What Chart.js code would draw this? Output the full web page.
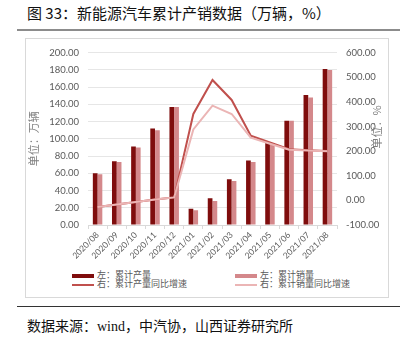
<!DOCTYPE html>
<html>
<head>
<meta charset="utf-8">
<script src="https://cdn.jsdelivr.net/npm/chart.js@4"></script>
<style>
  body { margin: 0; background: #fff; width: 405px; height: 346px; position: relative; overflow: hidden; }
  .title { position: absolute; left: 27px; top: 2px; font: 15px "Noto Sans CJK SC", sans-serif; color: #111; }
  .rule-top { position: absolute; left: 17px; top: 29px; width: 383px; height: 2px; background: #8c8c8c; }
  .box { position: absolute; left: 25px; top: 38px; width: 362px; height: 258px; border: 1px solid #d9d9d9; }
  .chart-wrap { position: absolute; left: 25px; top: 38px; width: 363px; height: 222px; }
  .legend { position: absolute; font: 9px "Noto Sans CJK SC", sans-serif; color: #595959; }
  .legend .item { position: absolute; white-space: nowrap; height: 10px; line-height: 10px; }
  .legend .sym { position: absolute; left: 0; width: 22px; }
  .legend .txt { position: absolute; left: 25px; top: -1px; }
  .rule-bottom { position: absolute; left: 17px; top: 306px; width: 383px; height: 1px; background: #333; }
  .source { position: absolute; left: 27px; top: 315px; font: 14px "Liberation Serif", "Noto Sans CJK SC", serif; color: #111; }
</style>
</head>
<body>
<div class="title">图 33：新能源汽车累计产销数据（万辆，%）</div>
<div class="rule-top"></div>
<div class="box"></div>
<div class="chart-wrap"><canvas id="chart" width="363" height="222"></canvas></div>
<div class="legend" id="legend"></div>
<div class="rule-bottom"></div>
<div class="source">数据来源：wind，中汽协，山西证券研究所</div>
<script>
// months and values
const months = ["2020/08", "2020/09", "2020/10", "2020/11", "2020/12", "2021/01", "2021/02",
  "2021/03", "2021/04", "2021/05", "2021/06", "2021/07", "2021/08"];
const prodCum = [60, 74, 91, 112, 137, 19, 31, 53, 75, 96, 121, 151, 181];
const salesCum = [59, 73, 90, 110, 137, 17, 28, 51, 73, 95, 121, 148, 180];
const prodYoy = [-27, -17, -7, 4, 12, 351, 489, 408, 263, 235, 208, 204, 201];
const salesYoy = [-27, -17, -7, 4, 12, 288, 385, 351, 255, 230, 206, 203, 200];

const seriesNames = ["左：累计产量", "右：累计产量同比增速", "左：累计销量", "右：累计销量同比增速"];
const colors = { prod: "#7f0d0d", sales: "#d4888b", prodLine: "#c0504d", salesLine: "#ebb5b5" };

const tickFont = { family: "Lato, 'Liberation Sans', sans-serif", size: 9.5 };
const tickColor = "#595959";

// right axis title reads bottom-to-top in the reference
const rightTitle = {
  id: "rightTitle",
  afterDraw(chart) {
    const { ctx, chartArea } = chart;
    ctx.save();
    ctx.translate(chartArea.right + 40, (chartArea.top + chartArea.bottom) / 2 - 12);
    ctx.rotate(-Math.PI / 2);
    ctx.font = "11px 'Noto Sans CJK SC', sans-serif";
    ctx.fillStyle = "#7f7f7f";
    ctx.textAlign = "center";
    ctx.textBaseline = "middle";
    ctx.fillText("单位：%", 0, 0);
    ctx.restore();
  }
};

const ctx = document.getElementById("chart").getContext("2d");
new Chart(ctx, {
  data: {
    labels: months,
    datasets: [
      { type: "bar", label: seriesNames[0], data: prodCum, yAxisID: "y", backgroundColor: colors.prod,
        categoryPercentage: 0.5, barPercentage: 0.98, order: 2 },
      { type: "bar", label: seriesNames[2], data: salesCum, yAxisID: "y", backgroundColor: colors.sales,
        categoryPercentage: 0.5, barPercentage: 0.98, order: 3 },
      { type: "line", label: seriesNames[1], data: prodYoy, yAxisID: "y1", borderColor: colors.prodLine,
        borderWidth: 2, pointRadius: 0, tension: 0, order: 1 },
      { type: "line", label: seriesNames[3], data: salesYoy, yAxisID: "y1", borderColor: colors.salesLine,
        borderWidth: 2, pointRadius: 0, tension: 0, order: 0 },
    ],
  },
  options: {
    responsive: false,
    animation: false,
    layout: { padding: { top: 13, left: 0, right: 0, bottom: 0 } },
    plugins: { legend: { display: false }, tooltip: { enabled: false } },
    scales: {
      x: {
        offset: true,
        grid: { display: true, drawOnChartArea: false, offset: true, tickLength: 4, color: "#d9d9d9" },
        border: { color: "#d9d9d9" },
        ticks: { font: { family: tickFont.family, size: 8.5 }, color: tickColor, minRotation: 45, maxRotation: 45,
          padding: 1, autoSkip: false },
        afterFit(scale) { scale.height = 35; },
      },
      y: {
        position: "left",
        min: 0, max: 200,
        ticks: { stepSize: 20, font: tickFont, color: tickColor, padding: 9,
          callback: (v) => v.toFixed(2) },
        grid: { color: "#e6e6e6", drawTicks: false },
        border: { display: false },
        title: { display: true, text: "单位：万辆", color: "#7f7f7f",
          font: { family: "'Noto Sans CJK SC', sans-serif", size: 11 }, padding: { top: 2, bottom: 2 } },
        afterFit(scale) { scale.width = 63; },
      },
      y1: {
        position: "right",
        min: -100, max: 600,
        ticks: { stepSize: 100, font: tickFont, color: tickColor, padding: 9,
          callback: (v) => v.toFixed(2) },
        grid: { drawOnChartArea: false, drawTicks: false },
        border: { display: false },
        afterFit(scale) { scale.width = 51; },
      },
    },
  },
  plugins: [rightTitle],
});

// legend laid out in two columns like the reference
const legendItems = [
  { name: seriesNames[0], color: colors.prod, thick: 4, x: 72, y: 271 },
  { name: seriesNames[1], color: colors.prodLine, thick: 2, x: 72, y: 280 },
  { name: seriesNames[2], color: colors.sales, thick: 4, x: 235, y: 271 },
  { name: seriesNames[3], color: colors.salesLine, thick: 2, x: 235, y: 280 },
];
const legend = document.getElementById("legend");
legendItems.forEach((it) => {
  const item = document.createElement("div");
  item.className = "item";
  item.style.left = it.x + "px";
  item.style.top = it.y + "px";
  const sym = document.createElement("div");
  sym.className = "sym";
  sym.style.height = it.thick + "px";
  sym.style.top = (5 - it.thick / 2) + "px";
  sym.style.background = it.color;
  const txt = document.createElement("span");
  txt.className = "txt";
  txt.textContent = it.name;
  item.appendChild(sym);
  item.appendChild(txt);
  legend.appendChild(item);
});
</script>
</body>
</html>
